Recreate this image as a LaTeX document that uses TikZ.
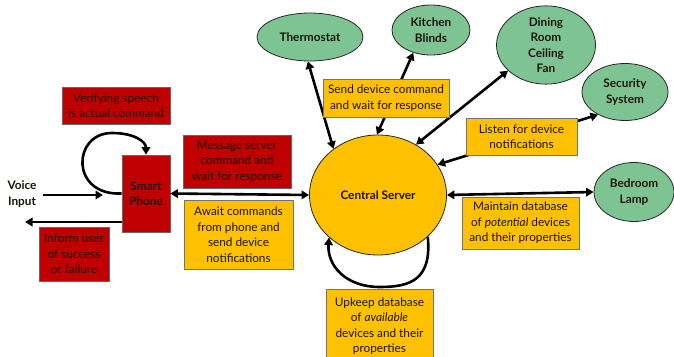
\documentclass[tikz,border=0pt]{standalone}
\usepackage{fontspec}
\setmainfont{Lato}
\usetikzlibrary{arrows.meta,shapes.geometric}
\definecolor{boxred}{RGB}{192,0,0}
\definecolor{boxorange}{RGB}{255,192,0}
\definecolor{devgreen}{RGB}{126,196,147}
\definecolor{ink}{RGB}{25,20,10}
\begin{document}
\begin{tikzpicture}[x=1pt,y=-1pt,
  >={Triangle[length=7.5pt,width=8.5pt]},
  conn/.style={line width=2.6pt, draw=black},
  txt/.style={font=\fontsize{11.8}{15.5}\selectfont, text=ink, align=center, inner sep=0pt},
  redbox/.style={txt, rectangle, draw=black!60, line width=0.6pt, fill=boxred},
  orangebox/.style={txt, rectangle, draw=black!55, line width=0.6pt, fill=boxorange},
  device/.style={ellipse, draw=black!85, line width=0.8pt, fill=devgreen, inner sep=0pt,
    font=\fontsize{11.8}{15.5}\selectfont\bfseries, text=ink, align=center},
  hub/.style={ellipse, draw=black!85, line width=0.8pt, fill=boxorange, inner sep=0pt,
    font=\fontsize{11.8}{15.5}\selectfont\bfseries, text=ink, align=center},
]
\useasboundingbox (0,0) rectangle (674,356);

% main nodes
\node[hub, minimum width=137pt, minimum height=120pt] (server) at (378,195) {Central Server};
\node[redbox, font=\fontsize{11.8}{15.5}\selectfont\bfseries, minimum width=48pt, minimum height=77pt] (phone) at (146,193.5) {Smart\\Phone};
\node[device, minimum width=106pt, minimum height=48pt] (thermo) at (310,37) {Thermostat};
\node[device, minimum width=78pt, minimum height=50pt] (blinds) at (431,30) {Kitchen\\Blinds};
\node[device, minimum width=99pt, minimum height=63pt] (fan) at (546,45) {Dining\\Room\\Ceiling\\Fan};
\node[device, minimum width=86pt, minimum height=57pt] (security) at (625,92) {Security\\System};
\node[device, minimum width=80pt, minimum height=59pt] (lamp) at (634,192) {Bedroom\\Lamp};
\node[txt, font=\fontsize{11.8}{15.5}\selectfont\bfseries] (voice) at (22,194) {Voice\\Input};

\coordinate (vin0) at (43,195);
\coordinate (vin1) at (103,195);
\coordinate (vout) at (25,222);

% connectors
\draw[conn,->] (vin0) -- (vin1);
\draw[conn,->] (phone.west |- vout) -- (vout);
\draw[conn,->] (phone.west) .. controls (70,196) and (72,133) .. (112,133)
   .. controls (135,133) and (146,142) .. (phone.north);
\draw[conn,<->] (phone.east) -- (server.west);
\draw[conn,<->] (thermo.-95) -- (server.134);
\draw[conn,<->] (blinds.-128) -- (server.91);
\draw[conn,<->] (fan.-146) -- (server.53);
\draw[conn,<->] (security.-140) -- (server.27);
\draw[conn,<->] (server.east) -- (lamp.west);
\draw[conn,->] (server.-40) .. controls (432,280) and (410,287) .. (380,287)
   .. controls (345,287) and (327,265) .. (server.-139);

% label boxes
\node[redbox, minimum width=108pt, minimum height=37pt] (verify) at (116,105.5) {Verifying speech\\is actual command};
\node[redbox, minimum width=70pt, minimum height=54pt] (inform) at (74,254) {Inform user\\of success\\or failure};
\node[redbox, minimum width=108pt, minimum height=53pt] (message) at (237,161.5) {Message server\\command and\\wait for response};
\node[orangebox, minimum width=109pt, minimum height=69pt] (await) at (238.5,234.5) {Await commands\\from phone and\\send device\\notifications};
\node[orangebox, minimum width=126pt, minimum height=38pt] (send) at (386,98) {Send device command\\and wait for response};
\node[orangebox, minimum width=111pt, minimum height=37pt] (listen) at (521.5,136.5) {Listen for device\\notifications};
\node[orangebox, minimum width=117pt, minimum height=52pt] (maintain) at (520.5,223) {Maintain database\\of \textit{potential} devices\\and their properties};
\node[orangebox, minimum width=107pt, minimum height=74pt] (upkeep) at (379.5,326) {Upkeep database\\of \textit{available}\\devices and their\\properties};
\end{tikzpicture}
\end{document}
